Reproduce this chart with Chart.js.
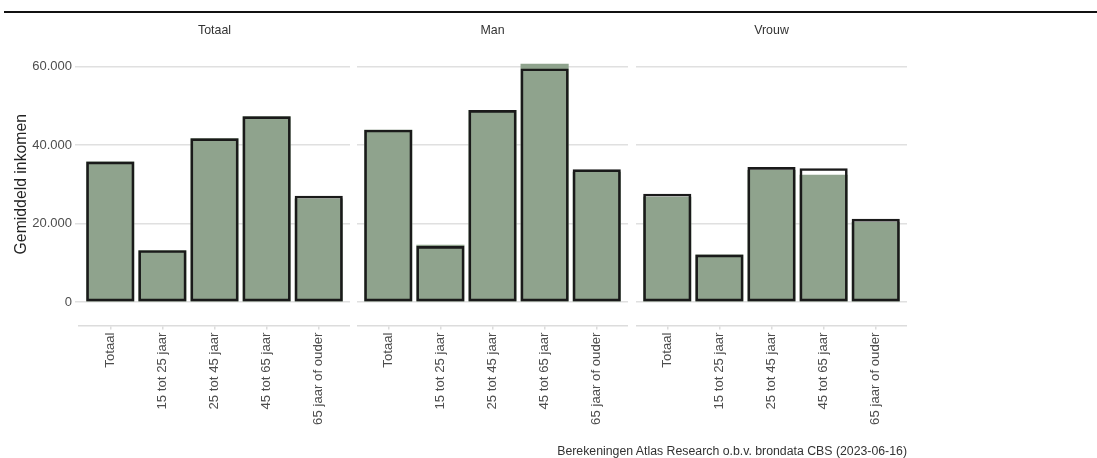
<!DOCTYPE html>
<html>
<head>
<meta charset="utf-8">
<script src="https://cdn.jsdelivr.net/npm/chart.js@4.4.1/dist/chart.umd.min.js"></script>
<style>
  body { margin: 0; background: #fff; width: 1097px; height: 458px; overflow: hidden; position: relative;
         font-family: "Liberation Sans", Arial, sans-serif; }
  .topline { position: absolute; left: 4px; top: 11px; width: 1093px; height: 2px; background: #111; }
  .panel { position: absolute; top: 0; }
  .caption { position: absolute; right: 190px; top: 444px; font-size: 12.3px; color: #333; white-space: nowrap; }
</style>
</head>
<body>
<div class="topline"></div>
<div class="panel" style="left:0px"><canvas id="p1" width="350" height="458"></canvas></div>
<div class="panel" style="left:357px"><canvas id="p2" width="271" height="458"></canvas></div>
<div class="panel" style="left:636px"><canvas id="p3" width="271" height="458"></canvas></div>
<div class="caption">Berekeningen Atlas Research o.b.v. brondata CBS (2023-06-16)</div>
<script>
// categorieen en facetten
var ageGroups = ["Totaal", "15 tot 25 jaar", "25 tot 45 jaar", "45 tot 65 jaar", "65 jaar of ouder"];
var facets = ["Totaal", "Man", "Vrouw"];

// zwarte omlijning
var outlineTotaal = [35700, 13100, 41600, 47200, 27000];
var outlineMan = [43800, 14150, 48800, 59400, 33700];
var outlineVrouw = [27500, 12000, 34300, 34000, 21100];

// groene vulling
var fillTotaal = [35700, 13100, 41600, 47200, 26300];
var fillMan = [43800, 14500, 48800, 60600, 33100];
var fillVrouw = [26700, 12000, 33500, 32300, 20300];

var yTicks = [0, 20000, 40000, 60000];

Chart.defaults.font.family = '"Liberation Sans", Arial, sans-serif';

function fmt(v) {
  return String(v).replace(/\B(?=(\d{3})+(?!\d))/g, ".");
}

function toPoints(arr) {
  return arr.map(function (v, i) { return { x: i, y: v }; });
}

function makePanel(id, title, outline, fill, first) {
  new Chart(document.getElementById(id), {
    type: "bar",
    data: {
      datasets: [{
        data: toPoints(outline),
        backgroundColor: "rgba(0,0,0,0)",
        borderColor: "#1a1a1a",
        borderWidth: 2,
        borderSkipped: false,
        grouped: false,
        barThickness: 47.5
      }, {
        data: toPoints(fill),
        backgroundColor: "#8fa38d",
        borderWidth: 0,
        grouped: false,
        barThickness: 47.5
      }]
    },
    options: {
      responsive: false,
      animation: false,
      layout: { padding: 0 },
      plugins: {
        legend: { display: false },
        tooltip: { enabled: false },
        title: {
          display: true, text: title, fullSize: false, color: "#333",
          font: { size: 12.4, weight: "normal" }, padding: { top: 23, bottom: 5 }
        }
      },
      scales: {
        x: {
          type: "linear", min: -0.6, max: 4.6, offset: false,
          afterBuildTicks: function (s) { s.ticks = ageGroups.map(function (g, i) { return { value: i }; }); },
          afterFit: function (s) { s.height = 132.5; },
          ticks: {
            callback: function (v) { return ageGroups[v]; },
            minRotation: 90, maxRotation: 90, autoSkip: false, padding: 3,
            color: "#4d4d4d", font: { size: 13.2 }
          },
          grid: { offset: false, drawOnChartArea: false, drawTicks: true, tickLength: 4, color: "#dcdcdc", lineWidth: 1.5 },
          border: { display: true, color: "#dcdcdc", width: 1.5 }
        },
        y: {
          min: -6000, max: 66000,
          afterBuildTicks: function (s) { s.ticks = yTicks.map(function (v) { return { value: v }; }); },
          afterFit: function (s) { s.width = first ? 79 : 0; },
          ticks: { display: first, padding: 3, callback: fmt, color: "#4d4d4d", font: { size: 13 } },
          grid: { color: "#e0e0e0", lineWidth: 1.5, drawTicks: first, tickLength: 4 },
          border: { display: false },
          title: {
            display: first, text: "Gemiddeld inkomen", color: "#222",
            font: { size: 15.8 }, padding: { top: 12, bottom: 0 }
          }
        }
      }
    }
  });
}

makePanel("p1", facets[0], outlineTotaal, fillTotaal, true);
makePanel("p2", facets[1], outlineMan, fillMan, false);
makePanel("p3", facets[2], outlineVrouw, fillVrouw, false);
</script>
</body>
</html>
